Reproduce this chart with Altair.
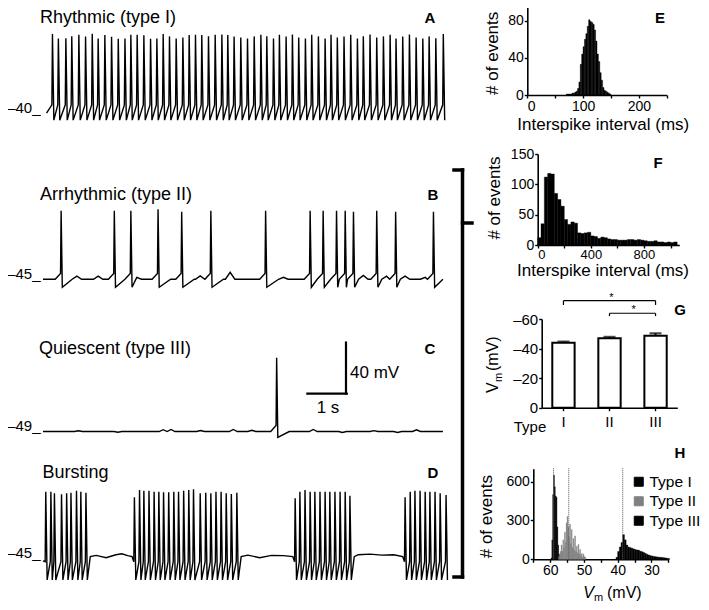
import altair as alt
import pandas as pd

FONT = "Liberation Sans"
W, H = 693, 594          # chart size (page is offset by the 8px margin)
M = 8

# ----------------------------------------------------------------- DATA
# Voltage traces: spike times (s) and peak potentials (mV)
A_spike_t = [0.24, 0.39, 0.58, 0.73, 0.91, 1.08, 1.25, 1.40, 1.57, 1.74, 1.91, 2.08,
             2.23, 2.39, 2.56, 2.73, 2.89, 3.05, 3.21, 3.38, 3.55, 3.71, 3.87, 4.03,
             4.20, 4.37, 4.54, 4.69, 4.85, 5.02, 5.19, 5.36, 5.53, 5.68, 5.85, 6.00,
             6.17, 6.33, 6.49, 6.66, 6.82, 6.99, 7.16, 7.31, 7.47, 7.64, 7.81, 7.98,
             8.13, 8.30, 8.47, 8.64, 8.81, 8.96, 9.13, 9.30, 9.47, 9.64, 9.80, 9.97, 10.16]
A_peak_mv = [21.5, 18.0, 18.2, 19.8, 21.0, 19.6, 21.8, 18.0, 20.8, 19.5, 17.9, 18.1,
             20.9, 21.0, 20.6, 17.8, 18.0, 21.6, 19.7, 18.0, 18.9, 20.8, 21.0, 20.7,
             19.8, 20.9, 21.2, 20.8, 19.6, 18.8, 18.0, 19.7, 21.0, 19.8, 18.1, 20.9,
             19.6, 21.1, 18.8, 18.0, 20.9, 19.7, 18.1, 21.0, 18.9, 19.6, 21.0, 18.0,
             19.8, 21.1, 18.8, 19.7, 21.0, 18.0, 19.6, 21.2, 18.9, 18.0, 19.7, 18.2, 21.6]

B_spike_t = [0.46, 1.81, 2.23, 2.92, 3.52, 4.26, 5.65, 6.78, 7.11, 7.45, 7.67, 7.88,
             8.47, 8.95, 9.91]
B_peak_mv = [8.6, 8.6, 8.6, 9.7, 7.8, 8.6, 8.6, 8.6, 8.6, 8.6, 8.6, 7.8, 8.6, 7.8, 7.8]
B_bumps = [(0.86, 2.4), (1.40, 2.4), (2.38, 1.5), (3.99, 2.6), (4.75, 5.5),
           (6.10, 1.5), (8.13, 3.0), (8.72, 2.4), (9.19, 2.4), (9.70, 1.5)]

C_spike_t = [5.93]
C_peak_mv = [8.0]
C_bumps = [(0.90, 0.6), (1.90, -0.6), (3.05, 1.4), (3.25, 1.6), (4.00, 0.8),
           (4.83, 1.6), (5.30, 1.0), (6.86, 1.6), (7.60, -0.8), (8.40, 0.7),
           (9.00, -0.7), (9.48, 1.3)]

D_bursts = [
    [0.07, 0.20, 0.29, 0.47, 0.60, 0.71, 0.85, 0.96, 1.09],
    [2.32, 2.45, 2.56, 2.69, 2.82, 2.94, 3.06, 3.19, 3.32, 3.44, 3.57, 3.70, 3.82,
     3.99, 4.13, 4.26, 4.39, 4.52, 4.65, 4.78, 4.92],
    [6.40, 6.52, 6.65, 6.78, 6.90, 7.03, 7.16, 7.28, 7.41, 7.54, 7.67, 7.79],
    [9.19, 9.32, 9.44, 9.57, 9.70, 9.82, 9.95, 10.08, 10.23],
]
D_peaks = [
    [7.2, 7.2, 6.0, 5.2, 6.0, 6.5, 8.0, 7.2, 6.5],
    [2.8, 8.6, 8.0, 8.0, 7.2, 7.2, 6.8, 6.8, 7.2, 7.2, 8.0, 8.6, 9.1, 6.0, 6.5, 6.0,
     7.2, 7.2, 6.0, 5.4, 6.5],
    [2.1, 7.2, 8.6, 7.2, 7.2, 7.2, 7.2, 7.2, 7.2, 7.2, 7.2, 4.0],
    [2.8, 7.2, 8.0, 8.0, 7.2, 7.2, 7.2, 6.0, 4.6],
]
D_plateau_bumps = [(1.35, 1.0), (1.60, -0.8), (1.85, 1.5), (2.00, 2.2), (2.15, 0.8),
                   (5.20, 1.2), (5.50, -0.8), (5.80, 1.0), (6.10, 0.8),
                   (8.00, 1.5), (8.30, 2.0), (8.60, 1.2), (8.90, 1.5)]

# E: interspike interval histogram, type I (2.5 ms bins)
E_bin_ms = [70, 72.5, 75, 77.5, 80, 82.5, 85, 87.5, 90, 92.5, 95, 97.5, 100, 102.5,
            105, 107.5, 110, 112.5, 115, 117.5, 120, 122.5, 125, 127.5, 130, 132.5,
            135, 137.5, 140, 142.5, 145, 147.5]
E_count = [1, 1, 1, 1, 2, 2, 3, 4, 7, 14, 33, 44, 52, 60, 66, 74, 81, 79, 78, 76,
           70, 58, 44, 36, 24, 16, 8, 5, 4, 3, 2, 1]

# F: interspike interval histogram, type II (25 ms bins)
F_bin_ms = [0, 25, 50, 75, 100, 125, 150, 175, 200, 225, 250, 275, 300, 325, 350,
            375, 400, 425, 450, 475, 500, 525, 550, 575, 600, 625, 650, 675, 700,
            725, 750, 775, 800, 825, 850, 875, 900, 925, 950, 975, 1000, 1025]
F_count = [12, 35, 112, 118, 117, 85, 75, 64, 42, 34, 38, 36, 20, 19, 20, 21, 15,
           14, 11, 13, 12, 10, 9, 9, 8, 8, 8, 9, 9, 8, 9, 8, 7, 6, 6, 7, 5, 5, 4,
           5, 4, 5]

# G: resting membrane potential by type
G_type = ["I", "II", "III"]
G_vm = [-44.0, -47.0, -48.6]
G_err = [0.7, 0.9, 1.7]
G_sig_from = ["I", "II"]
G_sig_to = ["III", "III"]

# H: membrane potential histograms (bin start in -mV)
H_I_bin = [59.75, 59.5, 59.25, 59.0, 58.75, 58.5, 58.25, 58.0, 57.75, 57.5]
H_I_n = [10, 150, 500, 650, 560, 490, 480, 250, 110, 40]
H_II_bin = [57.5, 57.25, 57.0, 56.75, 56.5, 56.25, 56.0, 55.75, 55.5, 55.25, 55.0,
            54.75, 54.5, 54.25, 54.0, 53.75, 53.5, 53.25, 53.0, 52.75, 52.5, 52.25,
            52.0, 51.75, 51.5, 51.25, 51.0, 50.75, 50.5, 50.25, 50.0, 49.75]
H_II_n = [20, 40, 60, 110, 60, 150, 90, 210, 130, 280, 330, 250, 170, 270, 120, 230,
          90, 160, 70, 180, 60, 100, 50, 115, 40, 75, 30, 45, 15, 40, 20, 15]
H_III_bin = [40.5, 40.0, 39.5, 39.0, 38.5, 38.0, 37.5, 37.0, 36.5, 36.0, 35.5, 35.0,
             34.5, 34.0, 33.5, 33.0, 32.5, 32.0, 31.5, 31.0, 30.5, 30.0, 29.5, 29.0,
             28.5, 28.0, 27.5, 27.0, 26.5, 26.0, 25.5, 25.0]
H_III_n = [15, 60, 95, 130, 190, 150, 110, 95, 90, 85, 80, 75, 72, 70, 62, 58, 52,
           45, 38, 33, 28, 25, 22, 20, 18, 16, 15, 14, 12, 10, 8, 5]
H_modes = [59.0, 54.5, 38.5]
H_types = ["Type I", "Type II", "Type III"]
H_colors = ["#000000", "#808080", "#000000"]

# ----------------------------------------------------------------- LAYOUT
PX_PER_S = 39.4
PX_PER_MV = 1.275
TRACE_X0 = 43.0
T_END = 10.25


def cx(x):
    return x - M


def cy(y):
    return y - M


def text(s, x, y, size=17, weight="normal", align="left", baseline="middle",
         angle=0, style="normal"):
    kw = dict(font=FONT, fontSize=size, fontWeight=weight, align=align,
              baseline=baseline, color="black", fontStyle=style)
    if angle:
        kw["angle"] = angle
    return alt.Chart(pd.DataFrame({"s": [s]})).mark_text(**kw).encode(
        x=alt.value(cx(x)), y=alt.value(cy(y)), text="s:N")


def hrule(x1, x2, y, w=3):
    return alt.Chart(pd.DataFrame({"a": [0]})).mark_rule(
        color="black", strokeWidth=w, strokeCap="square").encode(
        x=alt.value(cx(x1)), x2=alt.value(cx(x2)), y=alt.value(cy(y)))


def vrule(x, y1, y2, w=3):
    return alt.Chart(pd.DataFrame({"a": [0]})).mark_rule(
        color="black", strokeWidth=w, strokeCap="square").encode(
        x=alt.value(cx(x)), y=alt.value(cy(y1)), y2=alt.value(cy(y2)))


def sawtooth(groups, peaks, thr, ahp, start, plateau=None, bumps=()):
    pts = [start]
    for gi, (ts, ps) in enumerate(zip(groups, peaks)):
        if gi > 0:
            pts.append((ts[0] - 0.06, plateau))
        for t, p in zip(ts, ps):
            pts += [(t - 0.015, thr), (t, p), (t + 0.035, ahp)]
        if gi < len(groups) - 1:
            pts.append((ts[-1] + 0.11, plateau))
            nxt = groups[gi + 1][0]
            for bt, ba in bumps:
                if ts[-1] + 0.15 < bt < nxt - 0.1:
                    pts.append((bt, plateau + ba))
    return pts


def irregular(spikes, peaks, base, pre, ahp, bumps, t_end, bump_hw=0.12,
              pre_dt=0.15, rec_dt=0.32):
    ev = sorted([(t, "S", p) for t, p in zip(spikes, peaks)] +
                [(t, "B", a) for t, a in bumps])
    pts = [(0.0, base)]
    for i, (t, k, val) in enumerate(ev):
        if k == "S":
            left, right = t - pre_dt, t + rec_dt
            core = [(t - 0.015, base + pre), (t, val), (t + 0.03, ahp)]
        else:
            left, right = t - bump_hw, t + bump_hw
            core = [(t, base + val)]
        if left > pts[-1][0] + 0.02:
            pts.append((left, base))
        pts += [c for c in core if c[0] > pts[-1][0]]
        if i + 1 < len(ev):
            nt, nk, _ = ev[i + 1]
            ncore = nt - (pre_dt if nk == "S" else bump_hw)
        else:
            ncore = t_end
        if right < ncore - 0.02:
            pts.append((right, base))
    if pts[-1][0] < t_end:
        pts.append((t_end, base))
    return pts


def trace_scales(ref_mv, ref_y):
    lo, hi = -80.0, 40.0
    xs = alt.Scale(domain=[0, T_END],
                   range=[cx(TRACE_X0), cx(TRACE_X0 + T_END * PX_PER_S)],
                   nice=False, zero=False)
    ys = alt.Scale(domain=[lo, hi],
                   range=[cy(ref_y - (lo - ref_mv) * PX_PER_MV),
                          cy(ref_y - (hi - ref_mv) * PX_PER_MV)],
                   nice=False, zero=False)
    return xs, ys


def trace_layers(pts, ref_mv, ref_y, label):
    xs, ys = trace_scales(ref_mv, ref_y)
    df = pd.DataFrame(pts, columns=["t", "v"])
    df["i"] = range(len(df))
    line = alt.Chart(df).mark_line(color="black", strokeWidth=1.4).encode(
        x=alt.X("t:Q", scale=xs, axis=None),
        y=alt.Y("v:Q", scale=ys, axis=None),
        order="i:Q")
    lab = alt.Chart(pd.DataFrame({"s": [label], "v": [ref_mv]})).mark_text(
        font=FONT, fontSize=15, align="right", baseline="alphabetic",
        color="black").encode(
        x=alt.value(cx(40.5)), y=alt.Y("v:Q", scale=ys, axis=None), text="s:N")
    return [line, lab]


AX = dict(domainColor="black", domainWidth=1.6, tickColor="black", tickWidth=1.4,
          tickSize=3, labelFont=FONT, labelFontSize=14, labelColor="black",
          grid=False, title=None, labelPadding=1)

layers = []

# ---- A
ptsA = sawtooth([A_spike_t], [A_peak_mv], thr=-34.0, ahp=-46.0, start=(0.09, -40.4))
layers += trace_layers(ptsA, -40, 112.5, "\u201340_")

# ---- B
ptsB = irregular(B_spike_t, B_peak_mv, base=-45.2, pre=4.5, ahp=-51.5,
                 bumps=B_bumps, t_end=10.15)
layers += trace_layers(ptsB, -45, 279.0, "\u201345_")

# ---- C (with 1 s / 40 mV scale bar drawn in data units)
ptsC = irregular(C_spike_t, C_peak_mv, base=-49.8, pre=4.8, ahp=-54.3,
                 bumps=C_bumps, t_end=10.15, bump_hw=0.1)
layers += trace_layers(ptsC, -49, 430.5, "\u201349_")
xsC, ysC = trace_scales(-49, 430.5)
layers.append(alt.Chart(pd.DataFrame({"t": [6.71], "t2": [7.71], "v": [-20.0]})).mark_rule(
    color="black", strokeWidth=2.2, strokeCap="square").encode(
    x=alt.X("t:Q", scale=xsC, axis=None), x2="t2:Q",
    y=alt.Y("v:Q", scale=ysC, axis=None)))
layers.append(alt.Chart(pd.DataFrame({"t": [7.69], "v": [-20.0], "v2": [20.0]})).mark_rule(
    color="black", strokeWidth=2.2, strokeCap="square").encode(
    x=alt.X("t:Q", scale=xsC, axis=None),
    y=alt.Y("v:Q", scale=ysC, axis=None), y2="v2:Q"))

# ---- D
ptsD = sawtooth(D_bursts, D_peaks, thr=-47.7, ahp=-62.0, start=(0.0, -47.0),
                plateau=-43.7, bumps=D_plateau_bumps)
layers += trace_layers(ptsD, -45, 558.3, "\u201345_")

# ---- E histogram
dfE = pd.DataFrame({"s": E_bin_ms, "n": E_count})
dfE["e"] = dfE["s"] + 2.5
dfE["z"] = 0
xsE = alt.Scale(domain=[0, 250], range=[cx(527.3), cx(666.7)], nice=False, zero=False)
ysE = alt.Scale(domain=[0, 100], range=[cy(95), cy(95 - 100 * 0.929)], nice=False)
layers.append(alt.Chart(dfE).mark_bar(color="black", stroke="black", strokeWidth=0.4).encode(
    x=alt.X("s:Q", scale=xsE, axis=alt.Axis(
        orient="bottom", offset=cy(95) - H, values=[0, 50, 100, 150, 200, 250],
        labelExpr="datum.value % 100 == 0 ? datum.label : ''", **AX)),
    x2="e:Q",
    y=alt.Y("n:Q", scale=ysE, axis=alt.Axis(
        orient="left", offset=-cx(527.3), values=[0, 40, 80], **AX)),
    y2="z:Q"))

# ---- F histogram
dfF = pd.DataFrame({"s": F_bin_ms, "n": F_count})
dfF["e"] = dfF["s"] + 25
dfF["z"] = 0
xsF = alt.Scale(domain=[0, 1066], range=[cx(537.7), cx(679.3)], nice=False, zero=False)
ysF = alt.Scale(domain=[0, 150], range=[cy(245), cy(154)], nice=False)
AXF = dict(AX, labelFontSize=13, labelPadding=0)
layers.append(alt.Chart(dfF).mark_bar(color="black", stroke="black", strokeWidth=0.4).encode(
    x=alt.X("s:Q", scale=xsF, axis=alt.Axis(
        orient="bottom", offset=cy(245) - H, values=[0, 200, 400, 600, 800, 1000],
        labelExpr="datum.value % 400 == 0 ? datum.label : ''", **AXF)),
    x2="e:Q",
    y=alt.Y("n:Q", scale=ysF, axis=alt.Axis(
        orient="left", offset=-cx(537.7), values=[0, 50, 100, 150], **AX)),
    y2="z:Q"))

# ---- G bar chart
AXG = dict(AX, labelFontSize=15)


def GX():
    return alt.Scale(type="band", domain=G_type, range=[cx(541.7), cx(677.3)],
                     paddingInner=0.515, paddingOuter=0.23)


def GY():
    return alt.Scale(domain=[0, -60], range=[cy(407.7), cy(319)], nice=False, zero=False)


dfG = pd.DataFrame({"type": G_type, "vm": G_vm, "err": G_err})
dfG["top"] = dfG["vm"] - dfG["err"]
dfG["z"] = 0
layers.append(alt.Chart(dfG).mark_bar(fill="white", stroke="black", strokeWidth=2).encode(
    x=alt.X("type:N", scale=GX(), axis=alt.Axis(
        orient="bottom", offset=cy(407.7) - H, labelAngle=0,
        **dict(AXG, labelPadding=4))),
    y=alt.Y("vm:Q", scale=GY(), axis=alt.Axis(
        orient="left", offset=-cx(541.7), values=[0, -20, -40, -60],
        labelExpr="datum.value == 0 ? '0' : '\u2013' + abs(datum.value)", **AXG)),
    y2="z:Q"))
layers.append(alt.Chart(dfG).mark_rule(color="black", strokeWidth=2).encode(
    x=alt.X("type:N", scale=GX(), axis=None),
    y=alt.Y("vm:Q", scale=GY(), axis=None), y2="top:Q"))
layers.append(alt.Chart(dfG).mark_tick(color="black", size=12, thickness=2.2).encode(
    x=alt.X("type:N", scale=GX(), axis=None),
    y=alt.Y("top:Q", scale=GY(), axis=None)))
dfSig = pd.DataFrame({"a": G_sig_from, "b": G_sig_to, "y": [-72.4, -63.9]})
layers.append(alt.Chart(dfSig).mark_rule(color="black", strokeWidth=1.2).encode(
    x=alt.X("a:N", scale=GX(), axis=None), x2="b:N",
    y=alt.Y("y:Q", scale=GY(), axis=None)))
dfSigEnds = pd.DataFrame({"x": ["I", "III", "II", "III"],
                          "y": [-72.4, -72.4, -63.9, -63.9],
                          "y2": [-69.5, -69.5, -62.0, -62.0]})
layers.append(alt.Chart(dfSigEnds).mark_rule(color="black", strokeWidth=1.2).encode(
    x=alt.X("x:N", scale=GX(), axis=None),
    y=alt.Y("y:Q", scale=GY(), axis=None), y2="y2:Q"))
layers.append(alt.Chart(pd.DataFrame({"x": ["II"], "y": [-72.4], "s": ["*"]})).mark_text(
    font=FONT, fontSize=11, baseline="alphabetic", dx=2, color="black").encode(
    x=alt.X("x:N", scale=GX(), axis=None), y=alt.Y("y:Q", scale=GY(), axis=None), text="s:N"))
layers.append(alt.Chart(pd.DataFrame({"x": ["III"], "y": [-63.9], "s": ["*"]})).mark_text(
    font=FONT, fontSize=11, baseline="alphabetic", dx=-22, color="black").encode(
    x=alt.X("x:N", scale=GX(), axis=None), y=alt.Y("y:Q", scale=GY(), axis=None), text="s:N"))

# ---- H histograms
rows = []
for typ, bins, ns, w in [("Type I", H_I_bin, H_I_n, 0.25),
                         ("Type II", H_II_bin, H_II_n, 0.25),
                         ("Type III", H_III_bin, H_III_n, 0.5)]:
    for b, n in zip(bins, ns):
        rows.append({"type": typ, "s": b, "e": b - w, "n": n, "z": 0})
dfH = pd.DataFrame(rows)


def xsH():
    return alt.Scale(domain=[65, 25], range=[cx(533.3), cx(668.3)], nice=False, zero=False)


def ysH():
    return alt.Scale(domain=[0, 700], range=[cy(559.3), cy(559.3 - 700 * 0.1294)], nice=False)


HC = alt.Scale(domain=H_types, range=H_colors)
layers.append(alt.Chart(dfH).mark_bar(strokeWidth=0.4).encode(
    x=alt.X("s:Q", scale=xsH(), axis=alt.Axis(
        orient="bottom", offset=cy(559.3) - H,
        values=[65, 60, 55, 50, 45, 40, 35, 30, 25],
        labelExpr="datum.value % 10 == 0 ? datum.label : ''", **AX)),
    x2="e:Q",
    y=alt.Y("n:Q", scale=ysH(), axis=alt.Axis(
        orient="left", offset=-cx(533.3), values=[0, 300, 600], **AX)),
    y2="z:Q",
    color=alt.Color("type:N", scale=HC, legend=alt.Legend(
        orient="none", legendX=cx(631), legendY=cy(474), title=None,
        symbolType="square", symbolSize=81, symbolStrokeColor="black",
        symbolStrokeWidth=1, labelFont=FONT, labelFontSize=15.5, labelColor="black",
        rowPadding=2.5, labelOffset=3, padding=0, labelLimit=200)),
    stroke=alt.Stroke("type:N", scale=HC, legend=None)))
layers.append(alt.Chart(pd.DataFrame({"v": H_modes, "y0": [0, 0, 0], "y1": [705, 705, 705]})).mark_rule(
    color="#555555", strokeWidth=1, strokeDash=[1, 1]).encode(
    x=alt.X("v:Q", scale=xsH(), axis=None),
    y=alt.Y("y0:Q", scale=ysH(), axis=None), y2="y1:Q"))

# ---- bracket joining B-D
layers += [vrule(462.5, 170, 577, 3.5), hrule(454, 462.5, 170, 3.5),
           hrule(454, 462.5, 577, 3.5), hrule(462.5, 472, 223, 3.5)]

# ---- titles, panel letters and axis titles
layers += [
    text("Rhythmic (type I)", 40, 17.5, 18),
    text("Arrhythmic (type II)", 40, 195, 18),
    text("Quiescent (type III)", 39, 349, 18),
    text("Bursting", 42.5, 472.7, 18),
    text("A", 430, 17.5, 15, "bold", "center"),
    text("B", 433, 195, 15, "bold", "center"),
    text("C", 430, 349.3, 15, "bold", "center"),
    text("D", 433, 472.7, 15, "bold", "center"),
    text("E", 660, 17.5, 15, "bold", "center"),
    text("F", 658, 163.3, 15, "bold", "center"),
    text("G", 680, 310, 15, "bold", "center"),
    text("H", 680, 453.3, 15, "bold", "center"),
    text("40 mV", 350, 372.7, 17),
    text("1 s", 328, 408, 17, align="center"),
    text("# of events", 492.5, 53.3, 17, align="center", angle=270),
    text("Interspike interval (ms)", 603.3, 124.5, 17, align="center"),
    text("# of events", 495, 198, 17, align="center", angle=270),
    text("Interspike interval (ms)", 603, 271, 17, align="center"),
    text("Type", 530, 426.7, 15, align="center"),
    text("V", 498.3, 393, 16, baseline="alphabetic", angle=270),
    text("m", 501.5, 382, 11, baseline="alphabetic", angle=270),
    text("(mV)", 498.3, 371, 16, baseline="alphabetic", angle=270),
    text("# of events", 486.7, 516.7, 17, align="center", angle=270),
    text("V", 583.3, 598, 16, baseline="alphabetic", style="italic"),
    text("m", 594, 601, 11, baseline="alphabetic"),
    text("(mV)", 607, 598, 16, baseline="alphabetic"),
]

chart = alt.layer(*layers).resolve_scale(
    x="independent", y="independent", color="independent", stroke="independent"
).properties(
    width=W, height=H, padding=0, autosize=alt.AutoSizeParams(type="none")
).configure_view(stroke=None)

chart.save("out.html", embed_options={"renderer": "svg", "actions": False})
